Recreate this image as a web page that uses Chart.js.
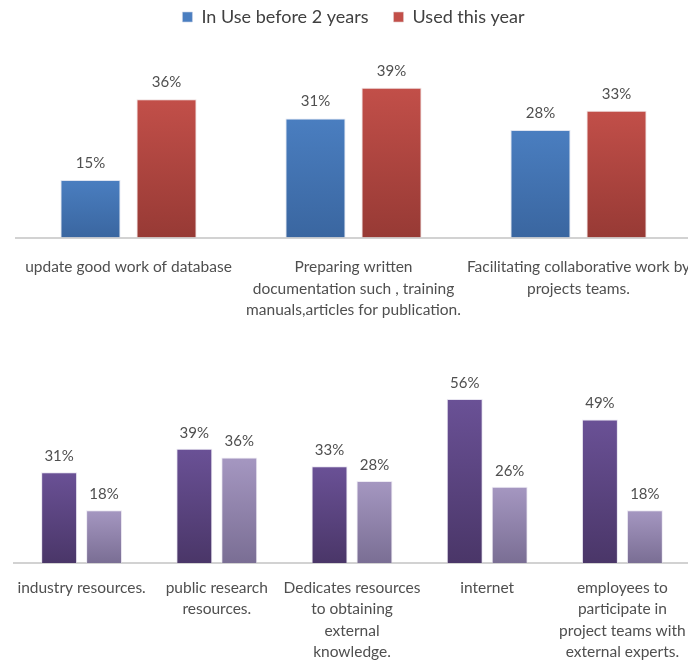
<!DOCTYPE html>
<html>
<head>
<meta charset="utf-8">
<script src="https://cdn.jsdelivr.net/npm/chart.js@4.4.0/dist/chart.umd.min.js"></script>
<style>
  html, body { margin: 0; padding: 0; background: #fff; overflow: hidden; }
  .box { position: absolute; left: 0; width: 711px; }
  #topBox { top: 0; height: 340px; }
  #bottomBox { top: 340px; height: 339px; }
</style>
</head>
<body>
<div class="box" id="topBox"><canvas id="toolsChart"></canvas></div>
<div class="box" id="bottomBox"><canvas id="sourcesChart"></canvas></div>
<script>
// knowledge tools
const toolLabels = [
  'update good work of database',
  ['Preparing written', 'documentation such , training', 'manuals,articles for publication.'],
  ['Facilitating collaborative work by', 'projects teams.']
];
const toolsBefore = [15, 31, 28];
const toolsThisYear = [36, 39, 33];

// knowledge sources
const sourceLabels = [
  'industry resources.',
  ['public research', 'resources.'],
  ['Dedicates resources', 'to obtaining', 'external', 'knowledge.'],
  'internet',
  ['employees to', 'participate in', 'project teams with', 'external experts.']
];
const sourcesBefore = [31, 39, 33, 56, 49];
const sourcesThisYear = [18, 36, 28, 26, 18];

const FONT = 'Lato, "DejaVu Sans", sans-serif';
const TEXT = '#4f4f4f';

// vertical gradient per bar, light at the top, darker at the base
function barFill(top, bottom) {
  return function(ctx) {
    const chart = ctx.chart;
    if (ctx.type !== 'data' || !chart.chartArea) return top;
    const y = chart.scales.y;
    const g = chart.ctx.createLinearGradient(0, y.getPixelForValue(ctx.raw), 0, y.getPixelForValue(0));
    g.addColorStop(0, top);
    g.addColorStop(1, bottom);
    return g;
  };
}

// percentage above each bar
const valueLabels = {
  id: 'valueLabels',
  afterDatasetsDraw(chart, args, opts) {
    const c = chart.ctx;
    c.save();
    c.font = '15px ' + FONT;
    c.fillStyle = TEXT;
    c.textAlign = 'center';
    c.textBaseline = 'middle';
    chart.data.datasets.forEach((ds, i) => {
      chart.getDatasetMeta(i).data.forEach((bar, j) => {
        c.fillText(ds.data[j] + '%', bar.x, bar.y - opts.gap);
      });
    });
    c.restore();
  }
};

function xAxis(pad) {
  return {
    grid: { display: false },
    border: { color: '#d2d2d2', width: 2 },
    ticks: {
      autoSkip: false,
      maxRotation: 0,
      padding: pad,
      color: TEXT,
      font: { family: FONT, size: 15.5, lineHeight: 1.387 }
    }
  };
}

new Chart(document.getElementById('toolsChart'), {
  type: 'bar',
  data: {
    labels: toolLabels,
    datasets: [
      { label: 'In Use before 2 years', data: toolsBefore,
        backgroundColor: barFill('#4a7ec0', '#3a66a0'), borderColor: 'rgba(200,210,230,0.6)', borderWidth: 1 },
      { label: 'Used this year', data: toolsThisYear,
        backgroundColor: barFill('#c24f49', '#973a35'), borderColor: 'rgba(225,200,200,0.6)', borderWidth: 1 }
    ]
  },
  options: {
    responsive: true,
    maintainAspectRatio: false,
    animation: false,
    datasets: { bar: { barPercentage: 0.79, categoryPercentage: 0.676 } },
    layout: { padding: { left: 16, right: 20, top: -17, bottom: 8 } },
    plugins: {
      legend: {
        position: 'top',
        labels: { boxWidth: 10, boxHeight: 10, padding: 25, color: '#404040',
          font: { family: FONT, size: 18 } }
      },
      tooltip: { enabled: false },
      valueLabels: { gap: 17 }
    },
    scales: {
      x: xAxis(11),
      y: { display: false, min: 0, max: 52.5 }
    }
  },
  plugins: [valueLabels]
});

new Chart(document.getElementById('sourcesChart'), {
  type: 'bar',
  data: {
    labels: sourceLabels,
    datasets: [
      { label: 'before', data: sourcesBefore,
        backgroundColor: barFill('#6a5196', '#4a3668'), borderColor: 'rgba(215,210,230,0.6)', borderWidth: 1 },
      { label: 'this year', data: sourcesThisYear,
        backgroundColor: barFill('#a597c1', '#7a6e94'), borderColor: 'rgba(225,220,235,0.6)', borderWidth: 1 }
    ]
  },
  options: {
    responsive: true,
    maintainAspectRatio: false,
    animation: false,
    datasets: { bar: { barPercentage: 0.8, categoryPercentage: 0.665 } },
    layout: { padding: { left: 14, right: 21, top: 18, bottom: 10 } },
    plugins: {
      legend: { display: false },
      tooltip: { enabled: false },
      valueLabels: { gap: 16 }
    },
    scales: {
      x: xAxis(6),
      y: { display: false, min: 0, max: 70 }
    }
  },
  plugins: [valueLabels]
});
</script>
</body>
</html>
